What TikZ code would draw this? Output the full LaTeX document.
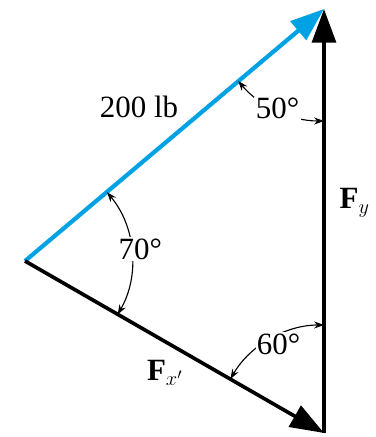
\documentclass[tikz,border=0pt]{standalone}
\usepackage{fontspec}
\setmainfont{Liberation Serif}
\usetikzlibrary{arrows.meta}
\definecolor{forceblue}{RGB}{0,162,228}

\begin{document}
\begin{tikzpicture}[x=0.025cm, y=0.025cm,
  force/.style={line width=2.6pt, -{Triangle[length=24pt,width=17pt]}},
  anglearc/.style={line width=0.8pt, {Stealth[length=7pt,width=5pt]}-{Stealth[length=7pt,width=5pt]}},
  lbl/.style={font=\fontsize{22}{26}\selectfont, inner sep=1pt},
  anglbl/.style={lbl, fill=white}]
  \useasboundingbox (0,0) rectangle (376,437);
  % Nodes
  \coordinate (L) at (25,176);
  \coordinate (T) at (324,428);
  \coordinate (B) at (324,4);
  \node[lbl] (Mag) at (139,330) {200 lb};
  \node[lbl, anchor=west] (Fy) at (338,234) {\textbf{F}$_y$};
  \node[lbl] (Fx) at (165,64) {\textbf{F}$_{x'}$};

  % Edges
  \draw[force, forceblue, line width=3pt] (L) -- (T);
  \draw[force] (L) -- (B);
  \draw[force] (B) -- (T);

  % Angles
  \draw[anglearc] ([shift={(40:107)}]L) arc (40:-30:107);
  \draw[anglearc] ([shift={(220:112)}]T) arc (220:270:112);
  \draw[anglearc] ([shift={(90:108)}]B) arc (90:150:108);
  \node[anglbl] (A70) at ([shift={(6:116)}]L) {70°};
  \node[anglbl] (A50) at ([shift={(245:110)}]T) {50°};
  \node[anglbl] (A60) at ([shift={(117:100)}]B) {60°};
\end{tikzpicture}
\end{document}
